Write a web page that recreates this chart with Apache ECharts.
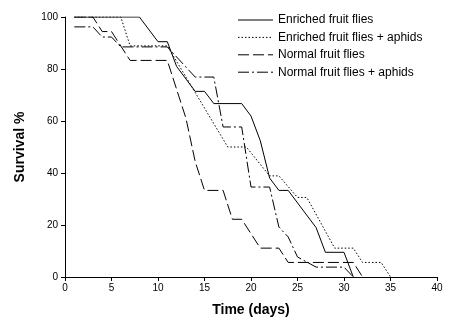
<!DOCTYPE html>
<html><head><meta charset="utf-8">
<script src="https://cdn.jsdelivr.net/npm/echarts@6/dist/echarts.min.js"></script>
<style>html,body{margin:0;padding:0;background:#fff}#c{width:453px;height:325px}</style>
</head><body><div id="c"></div>
<script>
const seriesNames = ["Enriched fruit flies", "Enriched fruit flies + aphids", "Normal fruit flies", "Normal fruit flies + aphids"];
const enrichedDays   = [1, 8, 10, 11, 12, 14, 15, 16, 19, 20, 21, 22, 23, 24, 27, 28, 30, 31];
const enrichedSurv   = [100, 100, 90.5, 90.5, 81, 71.4, 71.4, 66.7, 66.7, 61.9, 52.4, 38.1, 33.3, 33.3, 19, 9.5, 9.5, 0];
const enrAphDays     = [1, 6, 7, 11, 17.5, 19.5, 22, 23, 25, 26, 29, 31, 32, 34, 35];
const enrAphSurv     = [100, 100, 88.9, 88.9, 50, 50, 38.9, 38.9, 30.6, 30.6, 11.1, 11.1, 5.6, 5.6, 0];
const normalDays     = [1, 3, 4, 5, 7, 11, 12, 13, 14, 15, 17, 18, 19, 21, 23, 24, 31, 32];
const normalSurv     = [100, 100, 94.4, 94.4, 83.3, 83.3, 72.2, 61.1, 44.4, 33.3, 33.3, 22.2, 22.2, 11.1, 11.1, 5.6, 5.6, 0];
const normAphDays    = [1, 3, 4, 5, 6, 11, 14, 16, 17, 19, 20, 22, 23, 24, 25, 27, 30, 31];
const normAphSurv    = [96.2, 96.2, 92.3, 92.3, 88.5, 88.5, 76.9, 76.9, 57.7, 57.7, 34.6, 34.6, 19.2, 15.4, 7.7, 3.8, 3.8, 0];
const xTicks = [0, 5, 10, 15, 20, 25, 30, 35, 40];
const yTicks = [0, 20, 40, 60, 80, 100];

function pairs(d, v) { return d.map((x, i) => [x, v[i]]); }
const styles = ['solid', [1.5, 2], [11, 4], [11, 3, 2, 3]];
const dataSets = [pairs(enrichedDays, enrichedSurv), pairs(enrAphDays, enrAphSurv), pairs(normalDays, normalSurv), pairs(normAphDays, normAphSurv)];
const font = 'Liberation Sans, Arial, sans-serif';

// legend drawn as graphic elements (line sample + text)
const legendGraphics = [];
seriesNames.forEach((n, i) => {
  const y = 20 + i * 17.4;
  legendGraphics.push({type: 'line', shape: {x1: 238, y1: y, x2: 273, y2: y},
    style: {stroke: '#000', lineWidth: 1, lineDash: styles[i] === 'solid' ? null : styles[i]}});
  legendGraphics.push({type: 'text', x: 278, y: y,
    style: {text: n, fill: '#000', font: '12px ' + font, textVerticalAlign: 'middle', verticalAlign: 'middle'}});
});

const chart = echarts.init(document.getElementById('c'), null, {renderer: 'canvas'});
chart.setOption({
  animation: false,
  backgroundColor: '#fff',
  grid: {left: 65, right: 16, top: 17, bottom: 48, containLabel: false},
  graphic: legendGraphics,
  xAxis: {
    type: 'value', min: xTicks[0], max: xTicks[xTicks.length - 1], interval: 5,
    name: 'Time (days)', nameLocation: 'middle', nameGap: 26,
    nameTextStyle: {fontFamily: font, fontSize: 14, fontWeight: 'bold', color: '#000'},
    axisLine: {lineStyle: {color: '#000', width: 1}},
    axisTick: {inside: false, length: 4, lineStyle: {color: '#000'}},
    axisLabel: {fontFamily: font, fontSize: 10, color: '#000', margin: 6},
    splitLine: {show: false}
  },
  yAxis: {
    type: 'value', min: yTicks[0], max: yTicks[yTicks.length - 1], interval: 20,
    name: 'Survival %', nameLocation: 'middle', nameGap: 38,
    nameTextStyle: {fontFamily: font, fontSize: 14, fontWeight: 'bold', color: '#000'},
    axisLine: {show: true, lineStyle: {color: '#000', width: 1}},
    axisTick: {show: true, inside: false, length: 4, lineStyle: {color: '#000'}},
    axisLabel: {fontFamily: font, fontSize: 10, color: '#000', margin: 7},
    splitLine: {show: false}
  },
  series: seriesNames.map((n, i) => ({
    name: n, type: 'line', data: dataSets[i], symbol: 'none', showSymbol: false,
    lineStyle: {color: '#000', width: 1, type: styles[i]},
    itemStyle: {color: '#000'}
  }))
});
</script></body></html>
